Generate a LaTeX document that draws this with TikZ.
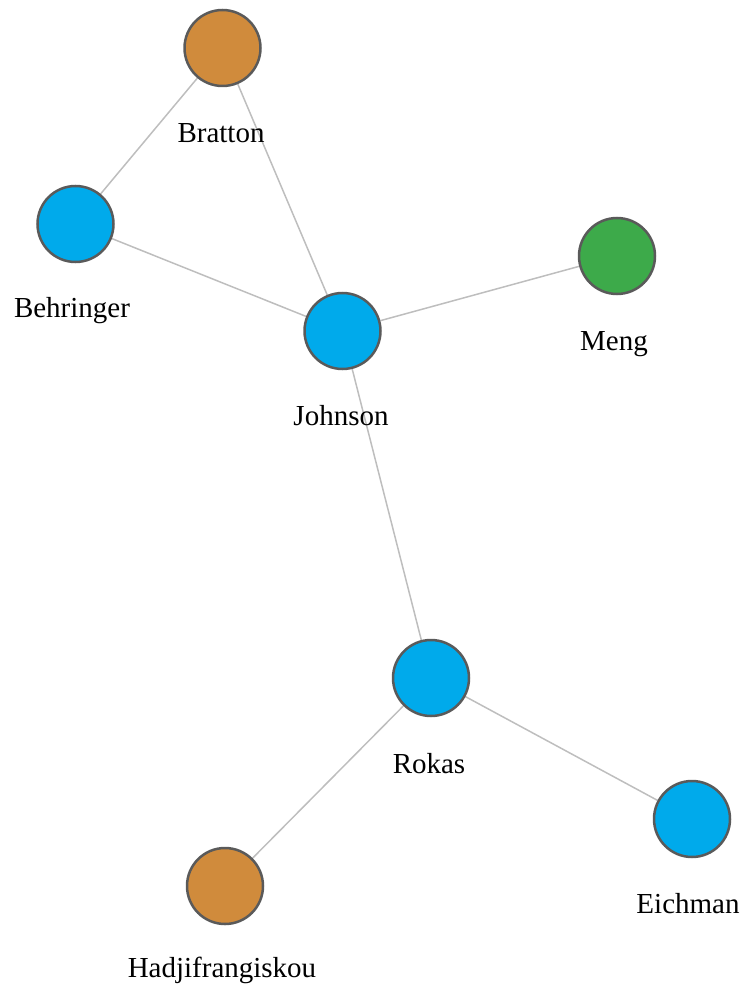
\documentclass[tikz,border=0pt]{standalone}
\usepackage{fontspec}
\setmainfont{Liberation Serif}
\usetikzlibrary{backgrounds}
\definecolor{orangenode}{RGB}{208,139,60}
\definecolor{bluenode}{RGB}{0,170,235}
\definecolor{greennode}{RGB}{61,170,74}
\definecolor{nodeborder}{RGB}{90,90,90}
\definecolor{edgegray}{RGB}{190,190,190}
\begin{document}
\begin{tikzpicture}[x=1pt,y=-1pt,
  vertex/.style={circle, draw=nodeborder, line width=2.5pt, minimum size=76pt, inner sep=0pt},
  lbl/.style={anchor=base, inner sep=0pt, font=\fontsize{29}{30}\selectfont, text=black},
  edge/.style={draw=edgegray, line width=1.5pt}]
\useasboundingbox (0,0) rectangle (744,987);
\node[vertex, fill=orangenode] (bratton) at (222.5,48) {};
\node[vertex, fill=bluenode] (behringer) at (75.5,224) {};
\node[vertex, fill=bluenode] (johnson) at (342.5,331) {};
\node[vertex, fill=greennode] (meng) at (617,256) {};
\node[vertex, fill=bluenode] (rokas) at (431,678) {};
\node[vertex, fill=bluenode] (eichman) at (692,819) {};
\node[vertex, fill=orangenode] (hadj) at (225,886) {};
\node[lbl] (bratton-l) at (221,143) {Bratton};
\node[lbl] (behringer-l) at (72,317) {Behringer};
\node[lbl] (johnson-l) at (341,425) {Johnson};
\node[lbl] (meng-l) at (614,350) {Meng};
\node[lbl] (rokas-l) at (429,773) {Rokas};
\node[lbl] (eichman-l) at (688,913) {Eichman};
\node[lbl] (hadj-l) at (222,977) {Hadjifrangiskou};
\begin{pgfonlayer}{background}
\path[edge] (bratton) -- (behringer);
\path[edge] (bratton) -- (johnson);
\path[edge] (behringer) -- (johnson);
\path[edge] (johnson) -- (meng);
\path[edge] (johnson) -- (rokas);
\path[edge] (rokas) -- (eichman);
\path[edge] (rokas) -- (hadj);
\end{pgfonlayer}
\end{tikzpicture}
\end{document}
